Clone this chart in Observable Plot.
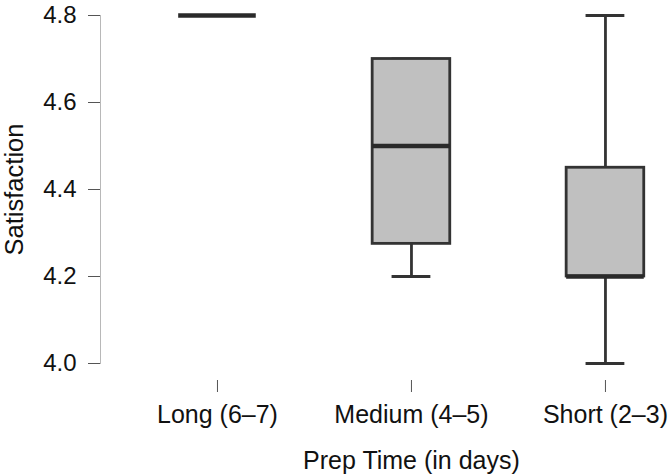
<!DOCTYPE html>
<html>
<head>
<meta charset="utf-8">
<script src="https://cdn.jsdelivr.net/npm/d3@7"></script>
<script src="https://cdn.jsdelivr.net/npm/@observablehq/plot@0.6"></script>
<style>
  html, body { margin: 0; padding: 0; background: #ffffff; }
  #chart { width: 668px; height: 474px; }
</style>
</head>
<body>
<div id="chart"></div>
<script>
// Data
const categories = ["Long (6–7)", "Medium (4–5)", "Short (2–3)"];
const whiskerLow = [4.8, 4.2, 4.0];
const quartile1 = [4.8, 4.275, 4.2];
const medians = [4.8, 4.5, 4.2];
const quartile3 = [4.8, 4.7, 4.45];
const whiskerHigh = [4.8, 4.7, 4.8];
const yTicks = [4.0, 4.2, 4.4, 4.6, 4.8];
const xTitle = "Prep Time (in days)";
const yTitle = "Satisfaction";

const rows = categories.map((c, i) => ({
  category: c,
  pos: i + 1,
  low: whiskerLow[i],
  q1: quartile1[i],
  median: medians[i],
  q3: quartile3[i],
  high: whiskerHigh[i]
}));

const boxHalf = 0.2;
const capHalf = 0.1;
const lineColor = "#333333";
const font = "'Liberation Sans', Arial, Helvetica, sans-serif";

const chart = Plot.plot({
  width: 668,
  height: 474,
  marginLeft: 100,
  marginRight: 0,
  marginTop: 15,
  marginBottom: 111,
  style: { fontFamily: font, fontSize: "24px", color: "#111111", background: "#ffffff", overflow: "visible" },
  x: { type: "linear", domain: [0.397, 3.325] },
  y: { type: "linear", domain: [4.0, 4.8] },
  marks: [
    Plot.frame({ anchor: "left", stroke: "#b8b8b8", strokeWidth: 1 }),
    Plot.axisY({ ticks: yTicks, tickFormat: ".1f", tickSize: 12, tickPadding: 12, label: null, stroke: "#555555", fontSize: 24 }),
    Plot.axisX({ ticks: [1, 2, 3], tickFormat: (d) => categories[d - 1], tickSize: 12, tickPadding: 13, dy: 17, label: null, stroke: "#555555", fontSize: 25 }),
    // whiskers
    Plot.ruleX(rows, { x: "pos", y1: "q3", y2: "high", stroke: lineColor, strokeWidth: 2.8 }),
    Plot.ruleX(rows, { x: "pos", y1: "low", y2: "q1", stroke: lineColor, strokeWidth: 2.8 }),
    // caps
    Plot.ruleY(rows, { y: "high", x1: (d) => d.pos - capHalf, x2: (d) => d.pos + capHalf, stroke: lineColor, strokeWidth: 2.8 }),
    Plot.ruleY(rows, { y: "low", x1: (d) => d.pos - capHalf, x2: (d) => d.pos + capHalf, stroke: lineColor, strokeWidth: 2.8 }),
    // boxes
    Plot.rect(rows, { x1: (d) => d.pos - boxHalf, x2: (d) => d.pos + boxHalf, y1: "q1", y2: "q3", fill: "#c0c0c0", stroke: lineColor, strokeWidth: 2.8 }),
    // medians
    Plot.ruleY(rows, { y: "median", x1: (d) => d.pos - boxHalf, x2: (d) => d.pos + boxHalf, stroke: "#2a2a2a", strokeWidth: 4.5 }),
    // axis titles
    Plot.text([xTitle], { x: 2, frameAnchor: "bottom", dy: 105, fontSize: 25, fill: "#111111" }),
    Plot.text([yTitle], { frameAnchor: "left", textAnchor: "middle", dx: -86, rotate: -90, fontSize: 25.5, fill: "#111111" })
  ]
});

document.getElementById("chart").appendChild(chart);
</script>
</body>
</html>
